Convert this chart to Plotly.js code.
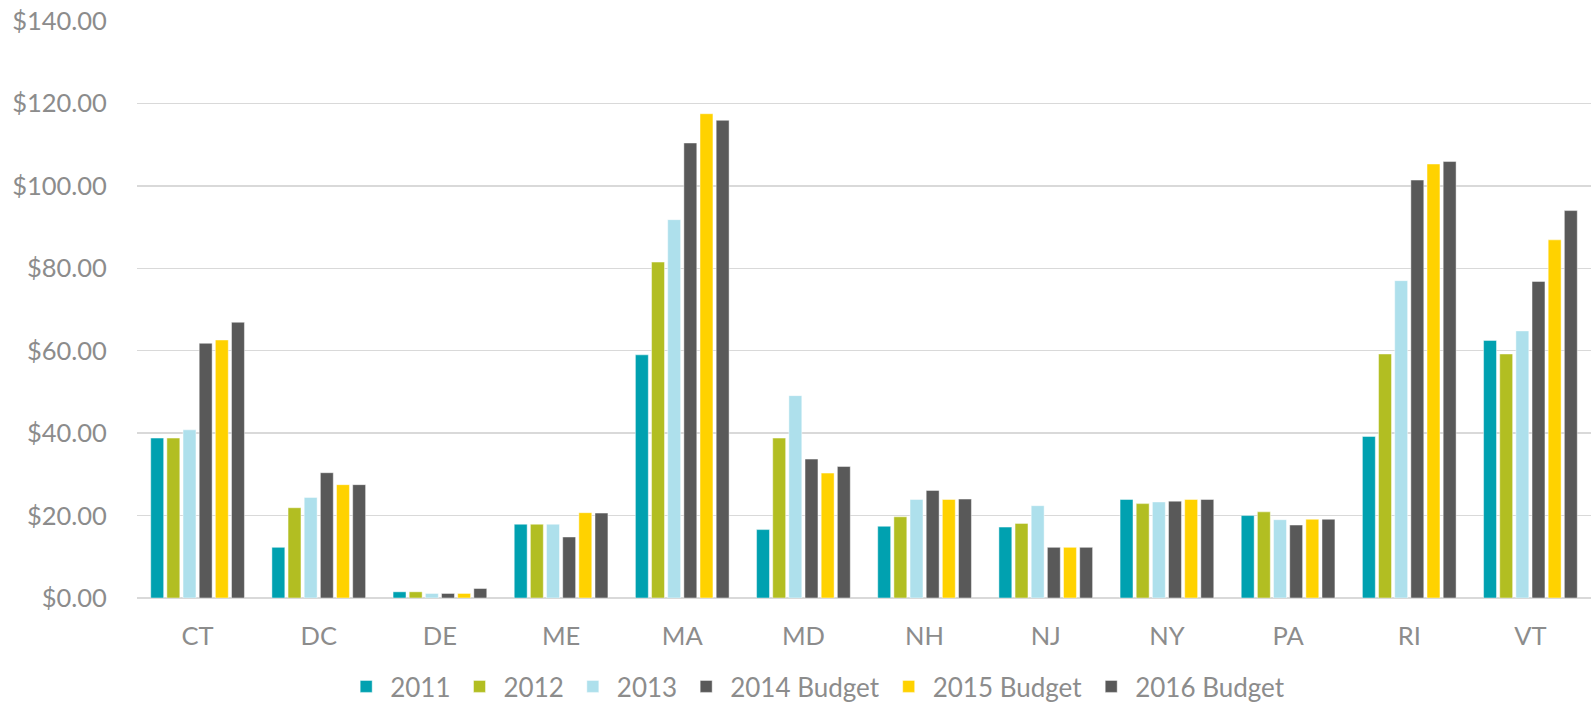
<!DOCTYPE html>
<html>
<head>
<meta charset="utf-8">
<script src="https://cdn.plot.ly/plotly-3.0.1.min.js"></script>
<style>html,body{margin:0;padding:0;background:#fff;}#chart{width:1591px;height:710px;}</style>
</head>
<body>
<div id="chart"></div>
<script>
const states = ["CT","DC","DE","ME","MA","MD","NH","NJ","NY","PA","RI","VT"];
const seriesNames = ["2011","2012","2013","2014 Budget","2015 Budget","2016 Budget"];
const v2011 = [38.8, 12.3, 1.5, 17.9, 59.0, 16.6, 17.4, 17.2, 23.9, 20.0, 39.2, 62.5];
const v2012 = [38.8, 21.9, 1.5, 17.9, 81.5, 38.8, 19.7, 18.1, 22.9, 20.9, 59.2, 59.2];
const v2013 = [40.8, 24.4, 1.1, 17.9, 91.8, 49.1, 23.9, 22.4, 23.3, 19.0, 77.0, 64.8];
const v2014 = [61.8, 30.4, 1.1, 14.8, 110.4, 33.7, 26.1, 12.3, 23.5, 17.7, 101.4, 76.8];
const v2015 = [62.6, 27.5, 1.1, 20.7, 117.5, 30.3, 23.9, 12.3, 23.9, 19.1, 105.3, 86.9];
const v2016 = [66.9, 27.5, 2.3, 20.6, 115.9, 31.9, 24.0, 12.3, 23.9, 19.1, 105.9, 94.0];
const allValues = [v2011, v2012, v2013, v2014, v2015, v2016];
const colors = ["#00A1B0", "#B2BE22", "#AEE0EC", "#595959", "#FFD200", "#595959"];

const font = {family: "Lato, 'Open Sans', sans-serif", size: 25.5, color: "#8c8c8c"};
const legendFont = {family: "Lato, 'Open Sans', sans-serif", size: 26, color: "#8c8c8c"};

const traces = allValues.map((vals, i) => ({
  type: "bar",
  name: seriesNames[i],
  x: states,
  y: vals,
  marker: {color: colors[i], line: {color: "rgba(255,255,255,0.45)", width: 1}},
  hoverinfo: "x+y+name"
}));

const layout = {
  width: 1591,
  height: 710,
  margin: {l: 137, r: 0, t: 21, b: 112},
  paper_bgcolor: "#ffffff",
  plot_bgcolor: "#ffffff",
  font: font,
  barmode: "group",
  bargap: 0.2,
  bargroupgap: 0.2,
  showlegend: true,
  legend: {
    orientation: "h",
    x: 0.513, xanchor: "center", xref: "container",
    y: -0.025, yanchor: "bottom", yref: "container",
    font: legendFont,
    itemwidth: 38,
    traceorder: "normal"
  },
  xaxis: {
    type: "category",
    showgrid: false,
    showline: false,
    zeroline: false,
    ticks: "outside",
    ticklen: 15,
    tickcolor: "rgba(0,0,0,0)",
    tickfont: font
  },
  yaxis: {
    range: [0, 140],
    dtick: 20,
    tick0: 0,
    tickprefix: "$",
    tickformat: ".2f",
    showgrid: true,
    gridcolor: "#D9D9D9",
    gridwidth: 1.5,
    zeroline: true,
    zerolinecolor: "#D9D9D9",
    zerolinewidth: 1.5,
    showline: false,
    ticks: "outside",
    ticklen: 24,
    tickcolor: "rgba(0,0,0,0)",
    tickfont: font
  }
};

Plotly.newPlot("chart", traces, layout, {displayModeBar: false, staticPlot: true});
</script>
</body>
</html>
